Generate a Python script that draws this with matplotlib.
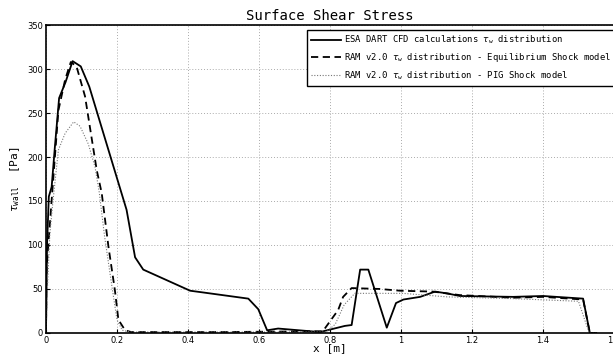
import numpy as np
import matplotlib
matplotlib.use("Agg")
import matplotlib.pyplot as plt

# ESA DART CFD calculations
x_cfd = [0.0, 0.003, 0.008, 0.016, 0.025, 0.037, 0.055, 0.075, 0.098, 0.122,
         0.227, 0.251, 0.274, 0.34, 0.406, 0.443, 0.57, 0.598, 0.623, 0.654,
         0.772, 0.842, 0.861, 0.885, 0.908, 0.96, 0.986, 1.007, 1.054, 1.096,
         1.129, 1.166, 1.316, 1.40, 1.513, 1.532, 1.55]
y_cfd = [0.0, 100, 155, 166, 211, 267, 285, 309, 303, 280,
         140, 86, 72, 60, 48, 46, 39, 27, 3, 5,
         1, 8, 9, 72, 72, 6, 34, 38, 41, 47,
         45, 42, 41, 42, 39, 0, 0]

# RAM v2.0 - Equilibrium shock model
x_eq = [0.0, 0.002, 0.016, 0.035, 0.054, 0.070, 0.086, 0.11, 0.143, 0.157,
        0.176, 0.194, 0.204, 0.223, 0.24, 0.5, 0.78, 0.823, 0.837, 0.861,
        0.94, 0.997, 1.09, 1.166, 1.316, 1.40, 1.513, 1.532, 1.55]
y_eq = [0.0, 75, 151, 253, 288, 308, 303, 269, 185, 159,
        98, 49, 15, 3, 1, 1, 2, 26, 41, 51,
        50, 48, 47, 43, 40, 41, 38, 0, 0]

# RAM v2.0 - PIG shock model
x_pig = [0.0, 0.005, 0.011, 0.02, 0.035, 0.054, 0.078, 0.096, 0.119, 0.138,
         0.15, 0.165, 0.185, 0.2, 0.215, 0.24, 0.5, 0.79, 0.815, 0.84,
         0.87, 1.006, 1.13, 1.316, 1.50, 1.53, 1.55]
y_pig = [0.0, 60, 113, 151, 208, 227, 240, 235, 215, 189,
         160, 110, 55, 15, 3, 1, 1, 1, 10, 32,
         45, 45, 41, 39, 36, 0, 0]

xticks = [0, 0.2, 0.4, 0.6, 0.8, 1.0, 1.2, 1.4, 1.6]
xtick_labels = ["0", "0.2", "0.4", "0.6", "0.8", "1", "1.2", "1.4", "1.6"]
yticks = [0, 50, 100, 150, 200, 250, 300, 350]

mono = "DejaVu Sans Mono"

fig = plt.figure(figsize=(6.13, 3.58), dpi=100)
ax = fig.add_axes([0.075, 0.07, 0.9266, 0.86])

ax.plot(x_cfd, y_cfd, color="black", lw=1.3, ls="-",
        label=r"ESA DART CFD calculations $\tau_{\mathtt{w}}$ distribution")
ax.plot(x_eq, y_eq, color="black", lw=1.3, ls=(0, (4, 2.5)),
        label=r"RAM v2.0 $\tau_{\mathtt{w}}$ distribution - Equilibrium Shock model")
ax.plot(x_pig, y_pig, color="#777777", lw=0.8, ls=(0, (1, 1.5)),
        label=r"RAM v2.0 $\tau_{\mathtt{w}}$ distribution - PIG Shock model")

ax.set_xlim(0, 1.6)
ax.set_ylim(0, 350)
ax.set_xticks(xticks)
ax.set_xticklabels(xtick_labels)
ax.set_yticks(yticks)
ax.tick_params(direction="in", length=3, labelsize=6, pad=2)
ax.grid(True, color="#aaaaaa", ls=(0, (1, 2)), lw=0.7)
for s in ax.spines.values():
    s.set_linewidth(1.2)

ax.set_title("Surface Shear Stress", family=mono, fontsize=10, pad=4)
ax.set_xlabel("x [m]", family=mono, fontsize=8, labelpad=-1)
ax.set_ylabel(r"$\tau_{\mathtt{wall}}$  [Pa]", family=mono, fontsize=8, labelpad=4)

leg = ax.legend(loc="upper left", bbox_to_anchor=(307 / 613, 1 - 30 / 358),
                bbox_transform=fig.transFigure, prop={"family": mono, "size": 6.4},
                fancybox=False, framealpha=1, edgecolor="black",
                handlelength=3.4, handletextpad=0.3, borderaxespad=0,
                borderpad=0.45, labelspacing=0.55)
leg.get_frame().set_linewidth(1.0)

fig.savefig("out.png", dpi=100)
